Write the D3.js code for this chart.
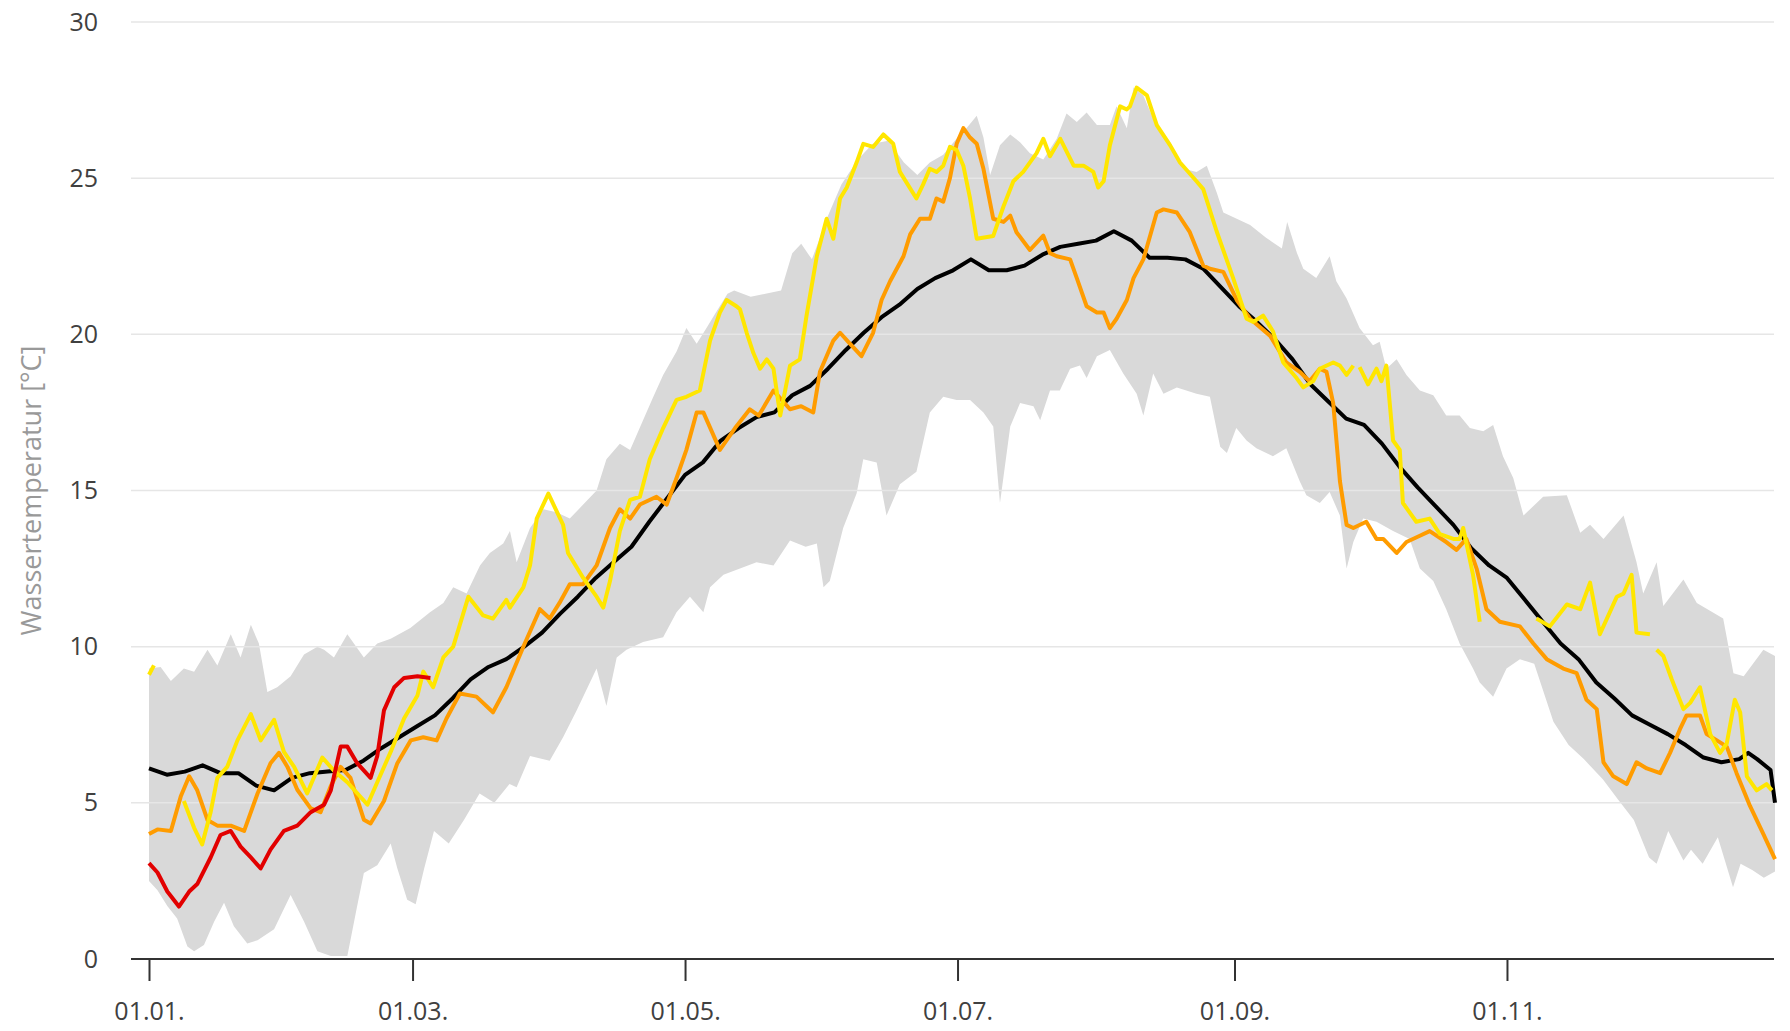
<!DOCTYPE html>
<html>
<head>
<meta charset="utf-8">
<script src="https://cdn.jsdelivr.net/npm/d3@7"></script>
<style>
    body { margin: 0; background: #fff; }
    svg text { font-family: "Open Sans", "DejaVu Sans", sans-serif; }
</style>
</head>
<body>
<script>
(function(){

//pseudo-global variables
//x axis ticks: day of year and label
var tickDays = [0, 59, 120, 181, 243, 304];
var tickLabels = ["01.01.", "01.03.", "01.05.", "01.07.", "01.09.", "01.11."];
var yTicks = [0, 5, 10, 15, 20, 25, 30];
var yTitle = "Wassertemperatur [°C]";

//range of all years: upper edge [day, °C]
var bandMax = [[0,9.3],[2.6,9.35],[4.9,8.9],[7.8,9.3],[10.1,9.2],[13.1,9.9],[15.3,9.4],[18.3,10.4],[20.5,9.65],[22.8,10.7],[24.6,10.1],[26.5,8.55],[28.7,8.7],[31.7,9.05],[34.7,9.75],[37.7,10.0],[39.2,9.9],[41.4,9.65],[44.4,10.4],[48.1,9.65],[51.1,10.1],[54.1,10.25],[58.5,10.6],[62.9,11.1],[65.9,11.4],[68.1,11.9],[71.1,11.7],[74.1,12.6],[76.3,13.0],[79.3,13.3],[80.8,13.7],[82.3,12.7],[85.3,13.8],[88.3,14.4],[91.2,14.3],[94.2,14.1],[97.2,14.55],[100.2,15.0],[102.4,16.0],[105.4,16.5],[107.7,16.3],[110.6,17.25],[112.9,18.0],[115.1,18.7],[118.1,19.45],[120.3,20.2],[122.6,19.7],[124.8,20.2],[126.5,20.6],[129.5,21.3],[131,21.4],[134.7,21.2],[138,21.3],[141.5,21.4],[144,22.6],[146,22.9],[148.4,22.4],[152,23.8],[155,24.8],[158.7,25.6],[162,26.1],[165.5,26.2],[169,25.5],[172,25.1],[174.8,25.5],[177.8,25.75],[181,26.3],[183,26.6],[185.3,27.0],[186.8,26.3],[188.3,25.1],[190.5,26.05],[192.8,26.4],[195,26.15],[197.2,25.8],[200.2,25.6],[203.2,26.26],[205.4,27.07],[207.7,26.8],[209.9,27.1],[212.2,26.7],[215.1,26.7],[216.6,27.3],[218.9,26.6],[220.4,27.9],[222.6,27.65],[224.8,26.9],[228.6,26.15],[231.6,25.3],[234.5,25.2],[236.8,25.4],[239,24.55],[240.5,23.9],[243.5,23.7],[246.5,23.5],[250,23.1],[253.6,22.75],[254.8,23.6],[257,22.6],[258.4,22.1],[261.3,21.8],[264.3,22.5],[265.8,21.7],[268.1,21.15],[271,20.2],[274,19.65],[275.5,19.76],[277,18.9],[279.3,19.2],[281.5,18.7],[284.5,18.2],[287.5,18.05],[290.4,17.4],[293.4,17.4],[295.7,17.0],[298.7,16.9],[300.9,17.1],[303.1,16.1],[305.4,15.4],[307.7,14.2],[312.1,14.8],[317.4,14.85],[320.4,13.65],[322.6,13.9],[325.6,13.45],[330.1,14.2],[333,12.7],[334.5,11.7],[337.5,12.7],[339,11.3],[343.5,12.15],[346.5,11.4],[352.4,10.9],[354.7,9.15],[357,9.05],[361.4,9.9],[364,9.7]];

//range of all years: lower edge [day, °C]
var bandMin = [[0,2.5],[1.9,2.2],[4.1,1.7],[6.3,1.3],[8.6,0.4],[10.1,0.25],[12.3,0.45],[14.6,1.2],[16.8,1.8],[19,1.05],[22,0.5],[24.3,0.6],[28,0.95],[31.7,2.05],[34.7,1.2],[37.7,0.25],[40.7,0.1],[44.4,0.1],[46.6,1.7],[48.1,2.75],[51.1,3.0],[54.1,3.7],[55.6,2.9],[57.8,1.9],[59.7,1.75],[61.6,2.9],[63.8,4.1],[67.1,3.7],[70.5,4.45],[74,5.3],[77.3,5.0],[80.7,5.6],[82.3,5.5],[85.3,6.5],[89.7,6.35],[92.7,7.1],[95.7,7.95],[100.2,9.3],[102.4,8.1],[104.7,9.65],[106.9,9.9],[110.6,10.15],[115.1,10.3],[118.1,11.1],[121.1,11.6],[124.1,11.1],[125.6,11.9],[128.6,12.3],[132.3,12.5],[136,12.7],[139.8,12.6],[143.5,13.4],[147,13.2],[149.5,13.3],[151,11.9],[152.4,12.1],[155.4,13.8],[158.4,14.9],[159.9,16.0],[162.9,15.9],[165.1,14.2],[168.1,15.2],[171.8,15.6],[174.8,17.5],[177.8,18.0],[180.8,17.9],[183.8,17.9],[186.8,17.5],[189,17.05],[190.5,14.6],[192.8,17.05],[195,17.8],[198,17.7],[199.5,17.25],[201.7,18.2],[203.9,18.2],[206.2,18.9],[208.4,19.0],[209.9,18.6],[212.2,19.3],[215.1,19.5],[218.1,18.75],[221.1,18.1],[222.6,17.4],[224.8,18.75],[227.1,18.1],[230.1,18.3],[234.5,18.1],[237.5,18.0],[239.8,16.4],[241.3,16.2],[243.4,17.0],[245.7,16.6],[247.9,16.35],[251.6,16.1],[254.6,16.35],[257.6,15.3],[259.1,14.85],[262.1,14.6],[264.3,14.95],[266.6,14.2],[268.1,12.5],[269.6,13.35],[271.8,14.1],[274.8,14.0],[278.5,13.7],[282.2,13.45],[284.5,12.5],[287.5,12.1],[290.4,11.2],[293.4,10.1],[296.4,9.3],[297.9,8.85],[300.9,8.4],[303.9,9.3],[306.9,9.6],[310.1,9.45],[314.4,7.6],[317.8,6.85],[321.2,6.4],[325.5,5.75],[328.9,5.1],[332.4,4.45],[335.8,3.25],[337.5,3.05],[340.1,4.1],[343.5,3.15],[345.2,3.5],[347.8,3.05],[351.2,3.9],[354.6,2.3],[356.3,3.05],[358.9,2.85],[361.5,2.6],[364,2.8]];

//mean of all years
var meanTemp = [[0,6.1],[4,5.9],[8,6.0],[12,6.2],[16,5.95],[20,5.95],[24,5.55],[28,5.4],[32,5.8],[36,5.95],[40,6.0],[44,6.05],[48,6.35],[52,6.75],[56,7.1],[60,7.45],[64,7.8],[68,8.35],[72,8.95],[76,9.35],[80,9.6],[84,10.0],[88,10.45],[92,11.05],[96,11.6],[100,12.2],[104,12.7],[108,13.2],[112,14.0],[116,14.75],[120,15.5],[124,15.9],[128,16.6],[132,17.0],[136,17.35],[140,17.5],[144,18.05],[148,18.35],[152,18.9],[156,19.5],[160,20.05],[164,20.55],[168,20.95],[172,21.45],[176,21.8],[180,22.05],[184,22.4],[188,22.05],[192,22.05],[196,22.2],[200,22.55],[204,22.8],[208,22.9],[212,23.0],[216,23.3],[220,23.0],[224,22.45],[228,22.45],[232,22.4],[236,22.1],[240,21.5],[244,20.9],[248,20.4],[252,19.85],[256,19.2],[260,18.4],[264,17.85],[268,17.3],[272,17.1],[276,16.5],[280,15.75],[284,15.1],[288,14.5],[292,13.9],[296,13.15],[300,12.6],[304,12.2],[308,11.5],[312,10.8],[316,10.1],[320,9.6],[324,8.85],[328,8.35],[332,7.8],[336,7.5],[340,7.2],[344,6.85],[348,6.45],[352,6.3],[356,6.4],[358,6.6],[360,6.4],[363,6.05],[364,5.0]];

//single years (null = no data)
var orangeYear = [[0,4.0],[1.9,4.15],[4.9,4.1],[7.1,5.2],[9,5.85],[10.8,5.4],[13.1,4.45],[15.3,4.27],[18.3,4.27],[21.3,4.1],[24.3,5.3],[27.2,6.27],[29.1,6.6],[31,6.15],[33.2,5.42],[36.2,4.82],[38.4,4.7],[40.7,5.54],[42.9,6.15],[45.1,5.8],[48.1,4.46],[49.6,4.34],[52.6,5.06],[55.6,6.27],[58.6,7.0],[61.4,7.1],[64.4,7.0],[66.6,7.7],[69.6,8.5],[73.3,8.4],[77,7.9],[80,8.7],[83.8,10.0],[87.5,11.2],[89.7,10.9],[91.9,11.4],[94.2,12.0],[97.2,12.0],[100.2,12.6],[103.2,13.8],[105.4,14.4],[107.7,14.1],[109.9,14.55],[113.6,14.8],[115.9,14.55],[118.1,15.4],[120.3,16.3],[122.6,17.5],[124.1,17.5],[127.8,16.3],[131.2,17.0],[134.5,17.6],[136.5,17.4],[139.8,18.2],[143.5,17.6],[146,17.7],[148.7,17.5],[150.2,18.8],[153.2,19.8],[154.7,20.05],[156.9,19.7],[159.5,19.3],[162.1,20.05],[164,21.1],[165.9,21.7],[168.9,22.5],[170.4,23.2],[172.6,23.7],[174.8,23.7],[176.3,24.35],[177.8,24.25],[179.3,25.0],[180.8,26.1],[182.3,26.6],[183.8,26.3],[185.3,26.1],[186.8,25.3],[189,23.7],[191.3,23.6],[192.8,23.8],[194.2,23.27],[197.2,22.7],[200.2,23.16],[201.7,22.6],[203.2,22.5],[206.2,22.4],[207.7,21.8],[209.9,20.9],[212.2,20.7],[213.7,20.7],[215.1,20.2],[216.6,20.5],[218.9,21.1],[220.4,21.8],[222.6,22.4],[225.6,23.9],[227.1,24.0],[230.1,23.9],[233,23.27],[236,22.2],[237.5,22.1],[240.5,22.0],[243.5,21.1],[246.5,20.5],[251,19.95],[254.6,19.1],[257.6,18.8],[259.8,18.5],[262.1,18.9],[263.6,18.8],[265.1,17.8],[266.6,15.3],[268.1,13.9],[269.6,13.8],[272.5,14.0],[274.8,13.45],[276.3,13.45],[279.3,13.0],[281.5,13.35],[284.5,13.55],[286.7,13.7],[290.4,13.35],[292.7,13.1],[294.9,13.45],[297.2,12.5],[299.4,11.2],[302.4,10.8],[306.9,10.65],[309.9,10.1],[312.9,9.6],[316.6,9.3],[319.6,9.15],[321.8,8.3],[324.1,8.0],[325.6,6.3],[327.8,5.85],[330.8,5.6],[333,6.3],[335.3,6.1],[338.3,5.95],[340.5,6.6],[342.7,7.35],[344.2,7.8],[347.2,7.8],[348.7,7.2],[351,7.0],[353.2,6.8],[355.4,5.95],[358.4,4.9],[361.4,4.0],[364,3.2]];

var yellowYear = [[0,9.1],[1.1,9.4],[1.2,null],[7.8,5.06],[10.1,4.2],[11.9,3.67],[13.8,4.7],[15.3,5.8],[17.5,6.15],[19.8,7.0],[22.8,7.84],[25,7.0],[28,7.66],[30.2,6.63],[32.5,6.15],[35.4,5.3],[38.8,6.45],[41.4,6.03],[44.4,5.66],[48.9,4.94],[51.1,5.66],[54.1,6.63],[57.1,7.7],[60.1,8.44],[61.4,9.2],[63.6,8.7],[65.9,9.66],[68.1,10.0],[71.5,11.6],[74.8,11.0],[77,10.9],[80,11.5],[80.8,11.25],[83.8,11.9],[85.3,12.6],[86.8,14.1],[89.4,14.9],[92.7,13.9],[93.8,13.0],[97.2,12.2],[100.2,11.6],[101.7,11.25],[103.2,12.1],[105.4,13.7],[107.7,14.7],[109.9,14.8],[112.1,16.0],[115.1,17.0],[118.1,17.9],[120.3,18.0],[123.3,18.2],[125.6,19.8],[127.8,20.7],[129.3,21.1],[131.5,20.9],[132.3,20.8],[133.8,20.05],[135.3,19.4],[136.8,18.9],[138.3,19.2],[139.8,18.9],[141.3,17.4],[143.5,19.0],[145.7,19.2],[147.2,20.6],[149.5,22.5],[151.7,23.7],[153.2,23.06],[154.7,24.35],[156.2,24.7],[158.4,25.5],[159.9,26.1],[162.1,26.0],[164.4,26.4],[166.6,26.1],[168.1,25.2],[171.8,24.35],[173.3,24.8],[174.8,25.3],[176.3,25.2],[177.8,25.4],[179.3,26.0],[180.8,25.9],[182.3,25.4],[183.8,24.35],[185.3,23.06],[189,23.15],[191.3,24.1],[193.5,24.9],[195.7,25.2],[198.7,25.8],[200.2,26.26],[201.7,25.7],[204,26.26],[207,25.4],[209.2,25.4],[211.4,25.2],[212.5,24.7],[213.7,24.9],[215.1,26.05],[217.4,27.3],[218.9,27.2],[219.6,27.3],[221.1,27.9],[223.4,27.65],[225.6,26.7],[228.6,26.05],[230.8,25.5],[234.5,24.9],[236,24.65],[239,23.3],[242.7,21.8],[245.7,20.5],[247.2,20.4],[249.4,20.6],[251.6,20.1],[253.9,19.1],[256.9,18.6],[258.4,18.3],[260.6,18.5],[262.1,18.9],[265.1,19.1],[266.6,19.0],[268.1,18.7],[269.6,19.0],[270.3,null],[271,18.95],[272.9,18.4],[274.8,18.9],[275.9,18.5],[277,19.0],[278.5,16.6],[280,16.3],[280.7,14.6],[283.7,14.0],[286.7,14.1],[289,13.6],[292,13.45],[293.4,13.45],[294.2,13.8],[296.4,12.3],[297.9,10.8],[300,null],[310.6,10.9],[313.6,10.65],[317.4,11.35],[320.4,11.2],[322.6,12.05],[324.8,10.4],[328.6,11.6],[330.1,11.7],[331.9,12.3],[333,10.45],[336,10.4],[336.8,null],[337.5,9.9],[339,9.7],[340.9,8.95],[343.5,8.0],[345,8.2],[347.2,8.7],[349.5,7.2],[351.7,6.6],[353.2,6.9],[355,8.3],[356.2,7.9],[357.7,5.85],[359.9,5.4],[362.1,5.6],[363.3,5.4]];

var redYear = [[0,3.07],[1.9,2.77],[4.1,2.16],[6.7,1.68],[9,2.16],[10.8,2.4],[13.8,3.25],[16,3.97],[18.3,4.1],[20.5,3.6],[22.8,3.25],[25,2.9],[27.2,3.5],[30.2,4.1],[33.2,4.27],[36.2,4.7],[39.2,4.94],[40.7,5.4],[42.9,6.8],[44.4,6.8],[46.6,6.27],[49.6,5.8],[51.1,6.5],[52.6,7.96],[54.9,8.7],[57.1,9.0],[60.1,9.05],[63,9.0]];

//begin script when window loads
window.onload = setChart();

//set up the chart
function setChart(){

    //frame dimensions
    var width = 1790,
        height = 1031;

    //plot frame (grid lines run from left to right)
    var plotLeft = 131,
        plotRight = 1774;

    var svg = d3.select("body")
        .append("svg")
        .attr("width", width)
        .attr("height", height);

    //day of year -> x
    var x = d3.scaleLinear()
        .domain([0, 364])
        .range([149, 1775]);

    //temperature -> y
    var y = d3.scaleLinear()
        .domain([0, 30])
        .range([959, 22]);

    var line = d3.line()
        .defined(function(d){ return d[1] !== null; })
        .x(function(d){ return x(d[0]); })
        .y(function(d){ return y(d[1]); });

    //grey band: upper edge forward, lower edge back
    var bandPoints = bandMax.concat(bandMin.slice().reverse());
    svg.append("path")
        .attr("class", "band")
        .attr("d", line(bandPoints) + "Z")
        .style("fill", "#d9d9d9");

    //horizontal grid lines
    svg.selectAll(".grid")
        .data(yTicks.filter(function(d){ return d > 0; }))
        .enter()
        .append("line")
        .attr("class", "grid")
        .attr("x1", plotLeft)
        .attr("x2", plotRight)
        .attr("y1", function(d){ return y(d); })
        .attr("y2", function(d){ return y(d); })
        .style("stroke", "#e6e6e6")
        .style("stroke-width", 1.5);

    //y axis labels
    var yAxis = d3.axisLeft(y)
        .tickValues(yTicks)
        .tickSize(0)
        .tickPadding(33);

    var yG = svg.append("g")
        .attr("class", "y-axis")
        .attr("transform", "translate(" + plotLeft + ",0)")
        .call(yAxis);
    yG.select(".domain").remove();
    yG.selectAll("text")
        .style("font-size", "25px")
        .style("fill", "#404040");

    //y axis title
    svg.append("text")
        .attr("class", "y-title")
        .attr("transform", "translate(32," + y(15) + ") rotate(-90)")
        .attr("text-anchor", "middle")
        .attr("dy", "0.35em")
        .style("font-size", "27px")
        .style("fill", "#999")
        .text(yTitle);

    //x axis
    var xAxis = d3.axisBottom(x)
        .tickValues(tickDays)
        .tickFormat(function(d, i){ return tickLabels[i]; })
        .tickSize(22)
        .tickPadding(21);

    var xG = svg.append("g")
        .attr("class", "x-axis")
        .attr("transform", "translate(0," + y(0) + ")")
        .call(xAxis);
    xG.select(".domain").remove();
    xG.selectAll(".tick line")
        .style("stroke", "#333")
        .style("stroke-width", 2);
    xG.selectAll("text")
        .style("font-size", "25px")
        .style("fill", "#404040");

    //axis base line
    svg.append("line")
        .attr("x1", plotLeft)
        .attr("x2", plotRight)
        .attr("y1", y(0))
        .attr("y2", y(0))
        .style("stroke", "#333")
        .style("stroke-width", 2);

    //lines: mean first, single years on top
    var series = [
        {name: "mean", values: meanTemp, color: "#000000"},
        {name: "orange", values: orangeYear, color: "#ff9c00"},
        {name: "yellow", values: yellowYear, color: "#ffe600"},
        {name: "red", values: redYear, color: "#e20000"}
    ];

    svg.selectAll(".series")
        .data(series)
        .enter()
        .append("path")
        .attr("class", function(d){ return "series " + d.name; })
        .attr("d", function(d){ return line(d.values); })
        .style("fill", "none")
        .style("stroke", function(d){ return d.color; })
        .style("stroke-width", 4)
        .style("stroke-linejoin", "round");
};

})();
</script>
</body>
</html>
